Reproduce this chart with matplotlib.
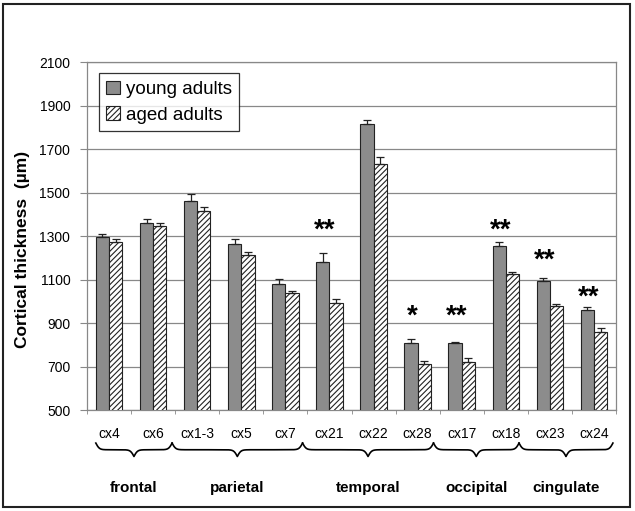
import numpy as np
import matplotlib.pyplot as plt
from matplotlib.patches import Rectangle
from matplotlib.transforms import blended_transform_factory

plt.rcParams['font.family'] = ['Liberation Sans', 'DejaVu Sans']
plt.rcParams['hatch.linewidth'] = 0.8

areas = ['cx4', 'cx6', 'cx1-3', 'cx5', 'cx7', 'cx21', 'cx22', 'cx28',
         'cx17', 'cx18', 'cx23', 'cx24']
young = [1297, 1361, 1461, 1265, 1078, 1182, 1813, 806, 806, 1254, 1094, 960]
young_err = [12, 16, 31, 21, 26, 38, 22, 22, 5, 17, 11, 15]
aged = [1272, 1345, 1416, 1214, 1039, 993, 1632, 710, 722, 1124, 978, 860]
aged_err = [14, 15, 19, 11, 9, 16, 33, 17, 16, 11, 9, 16]

# significance marks: (category index, text, height)
stars = [(5, '**', 1325), (7, '*', 930), (8, '**', 930),
         (9, '**', 1325), (10, '**', 1187), (11, '**', 1017)]

# lobes: name, brace start, brace end (category units)
lobes = [('frontal', 0.2, 1.93), ('parietal', 1.93, 4.89),
         ('temporal', 4.89, 7.86), ('occipital', 7.86, 9.8),
         ('cingulate', 9.8, 11.93)]

fig = plt.figure(figsize=(6.35, 5.11), dpi=100)
ax = fig.add_axes([87/635, 101/511, 529/635, 348/511])

x = np.arange(len(areas)) + 0.5
w = 0.3
edge = '#222222'
ax.bar(x - w/2, young, w, bottom=0, color='#8c8c8c', edgecolor=edge, lw=0.8,
       label='young adults', zorder=3)
ax.bar(x + w/2, aged, w, color='white', edgecolor=edge, hatch='//////', lw=0.8,
       label='aged adults', zorder=3)
# error bars (upper only)
ax.errorbar(x - w/2, young, yerr=[np.zeros(len(young)), young_err], fmt='none',
            ecolor=edge, elinewidth=0.9, capsize=3, capthick=0.9, zorder=4)
ax.errorbar(x + w/2, aged, yerr=[np.zeros(len(aged)), aged_err], fmt='none',
            ecolor=edge, elinewidth=0.9, capsize=3, capthick=0.9, zorder=4)

ax.set_xlim(0, len(areas))
ax.set_ylim(500, 2100)
ax.set_yticks(np.arange(500, 2101, 200))
ax.yaxis.grid(True, color='#888888', lw=0.9, zorder=0)
ax.set_xticks(x)
ax.set_xticklabels(areas)
ax.set_xticks(np.arange(0, len(areas) + 1), minor=True)
ax.tick_params(axis='x', which='major', length=0, pad=12, labelsize=10)
ax.tick_params(axis='x', which='minor', length=3, color='#888888', direction='out')
ax.tick_params(axis='y', length=5, color='#888888', pad=7, labelsize=10)
for s in ax.spines.values():
    s.set_color('#888888')
    s.set_linewidth(0.9)

ax.set_ylabel('Cortical thickness  (µm)', fontsize=12.5, fontweight='bold')
ax.yaxis.set_label_coords(-0.108, 0.46)

leg = ax.legend(loc='upper left', bbox_to_anchor=(0.022, 0.968), fontsize=13.5,
                frameon=True, fancybox=False, edgecolor='black',
                handlelength=0.75, handleheight=0.75, handletextpad=0.3,
                labelspacing=0.45, borderpad=0.4, borderaxespad=0)
leg.get_frame().set_linewidth(0.9)

for i, txt, h in stars:
    ax.text(i + 0.38, h, txt, ha='center', va='center', fontsize=20,
            fontweight='bold')

# curly braces under the category labels
trans = blended_transform_factory(ax.transData, ax.transAxes)
for name, a, b in lobes:
    half = (b - a) / 2
    t = np.linspace(0, half, 200)
    beta = 25
    c = 1 / (1 + np.exp(-beta * (t - t[0]))) + 1 / (1 + np.exp(-beta * (t - t[-1])))
    bx = np.concatenate([a + t, a + half + t])
    by = np.concatenate([c, c[::-1]])
    by = -0.095 - (by - 0.5) * 0.0385
    ax.plot(bx, by, color='black', lw=1.2, transform=trans, clip_on=False)
    ax.text(a + half, -0.224, name, transform=trans, ha='center', va='center',
            fontsize=11, fontweight='bold')

fig.patches.append(Rectangle((3/635, 4/511), 627/635, 503/511, fill=False,
                             edgecolor='#222222', lw=1.5,
                             transform=fig.transFigure, figure=fig))

fig.savefig('out.png', dpi=100)
